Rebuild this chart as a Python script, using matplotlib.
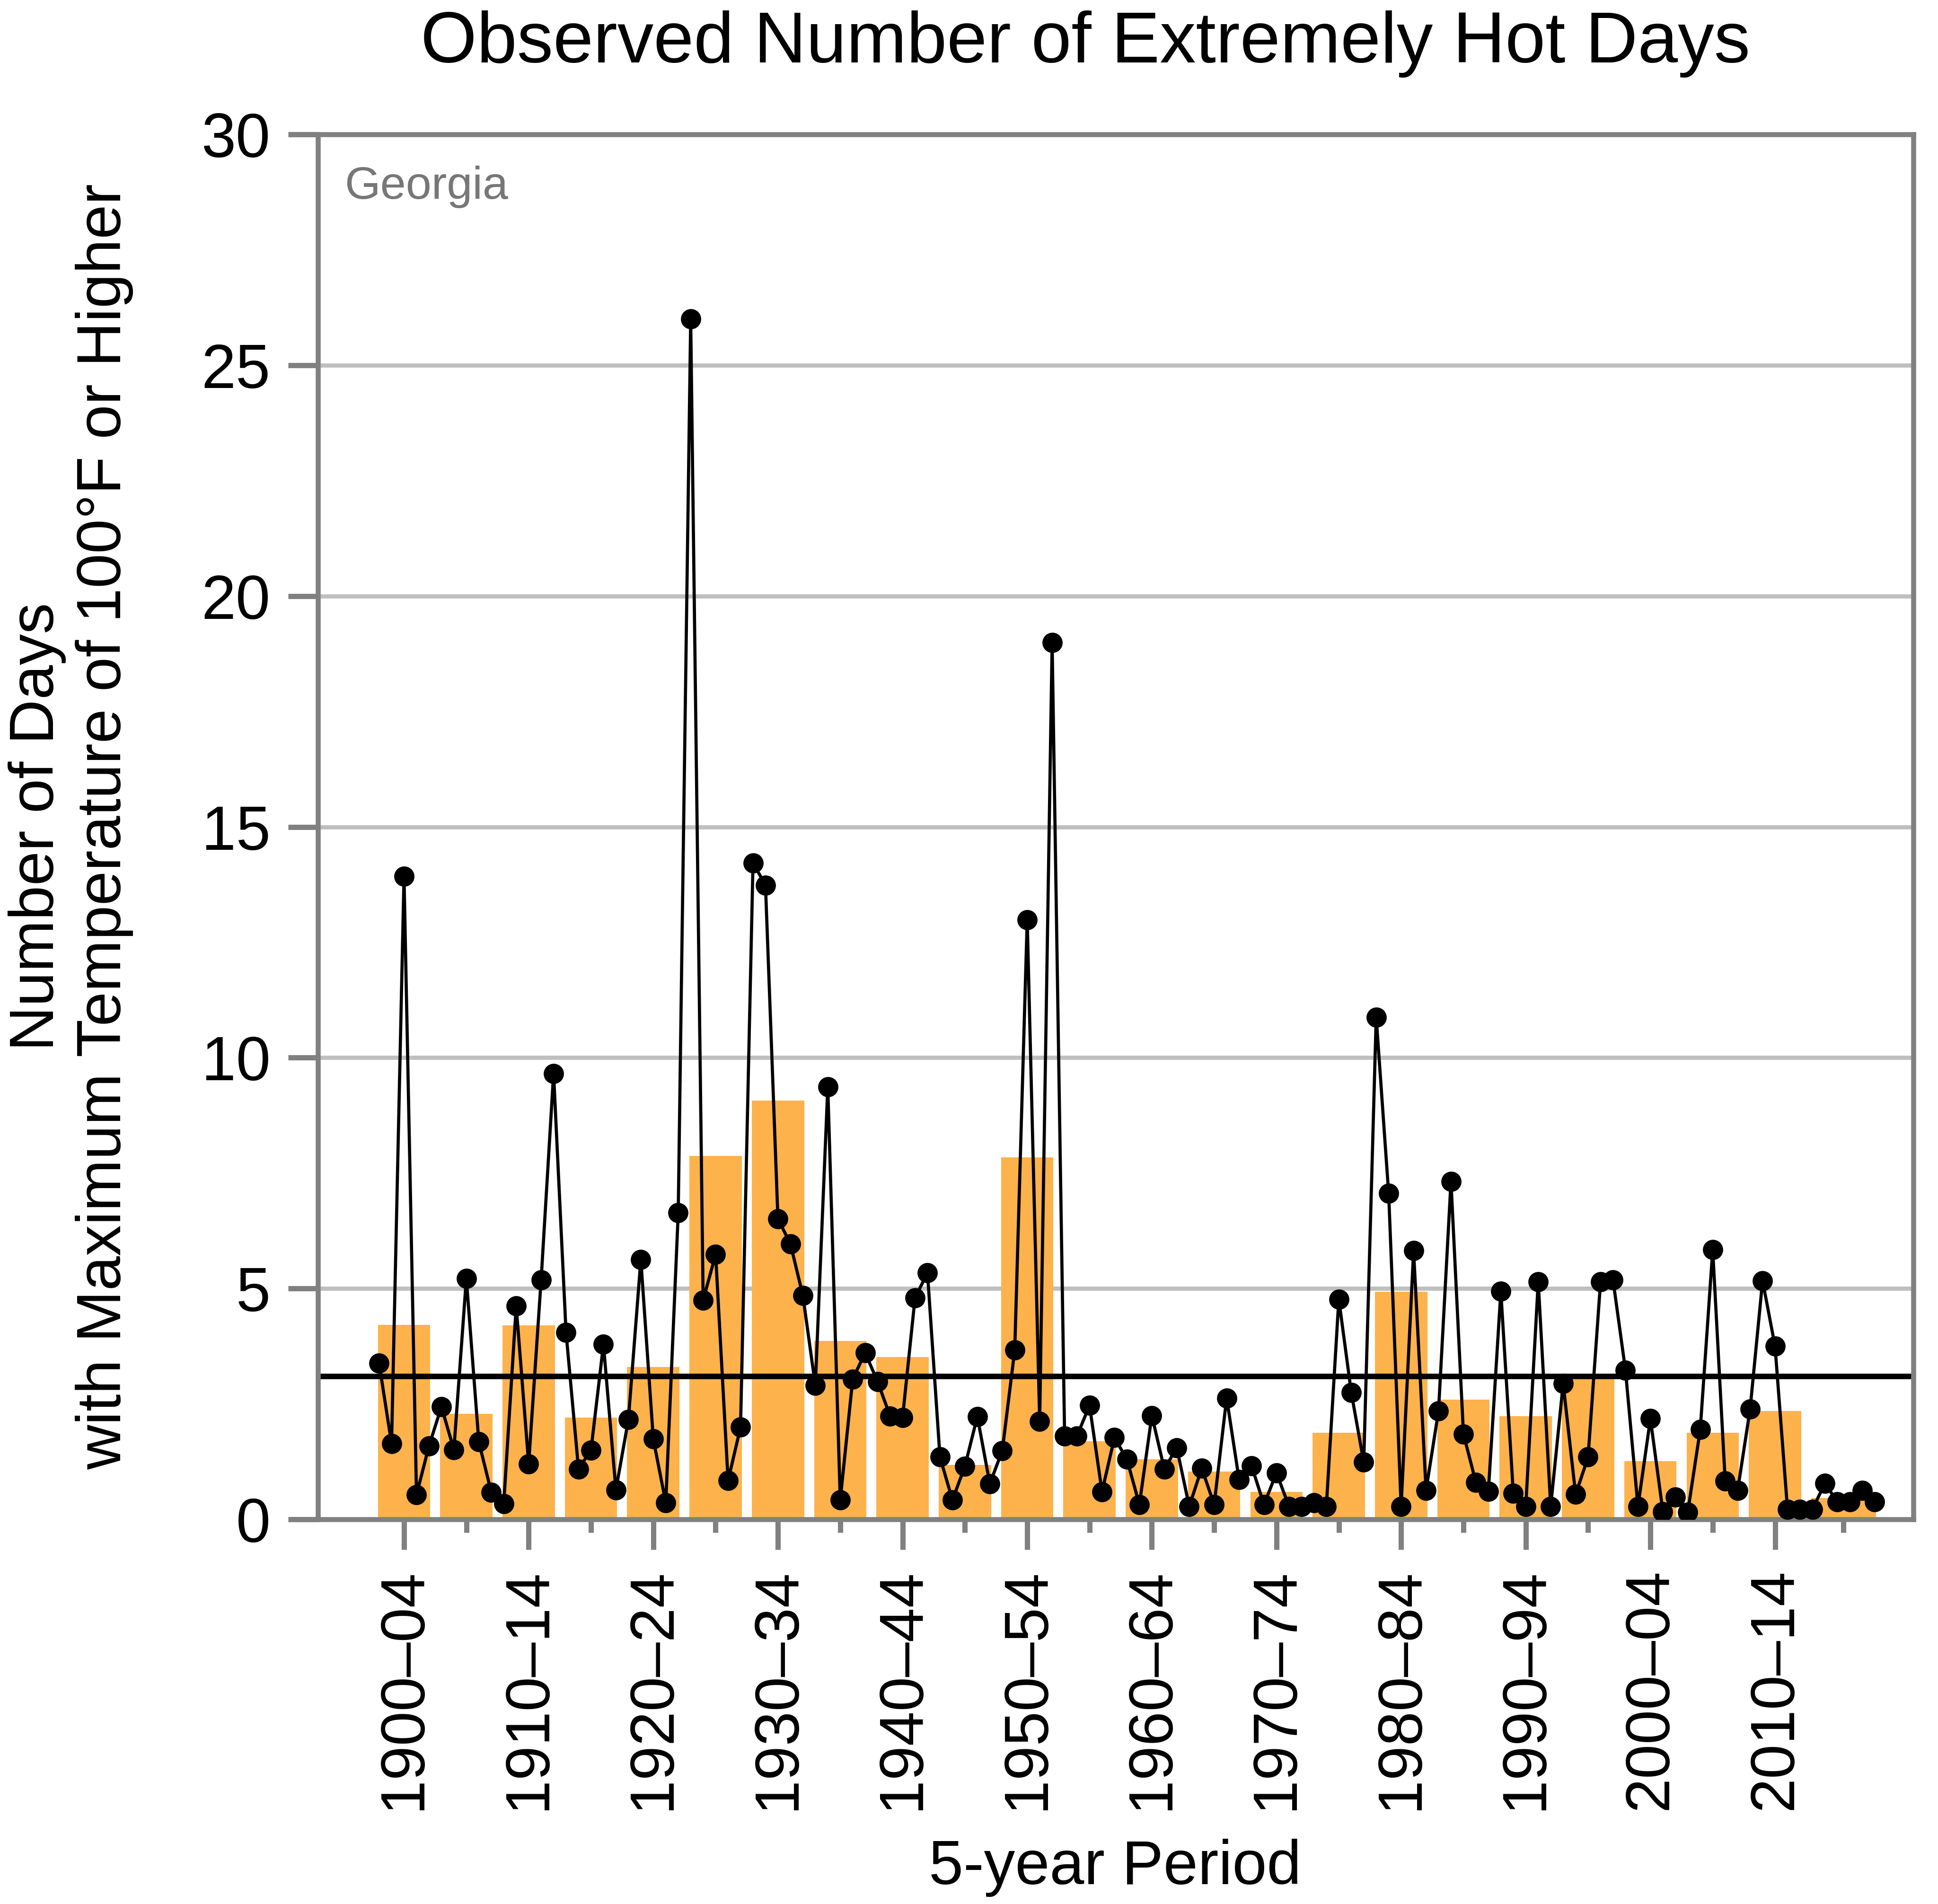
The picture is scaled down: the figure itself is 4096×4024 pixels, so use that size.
import matplotlib
matplotlib.use('Agg')
import matplotlib.pyplot as plt
from matplotlib.ticker import FixedLocator, NullFormatter

plt.rcParams['font.family'] = ['Liberation Sans', 'DejaVu Sans']

# annual number of days >= 100F, 1900-2020
years = list(range(1900, 2021))
days = [3.38, 1.64, 13.93, 0.53, 1.59, 2.44, 1.51, 5.22, 1.68, 0.59,
        0.34, 4.62, 1.20, 5.19, 9.66, 4.05, 1.09, 1.50, 3.79, 0.64,
        2.16, 5.63, 1.74, 0.36, 6.64, 26.0, 4.75, 5.74, 0.84, 2.00,
        14.22, 13.74, 6.51, 5.97, 4.85, 2.90, 9.37, 0.42, 3.04, 3.61,
        2.98, 2.24, 2.21, 4.80, 5.34, 1.35, 0.42, 1.15, 2.23, 0.77,
        1.49, 3.67, 12.99, 2.12, 18.99, 1.81, 1.81, 2.47, 0.60, 1.77,
        1.30, 0.32, 2.25, 1.09, 1.55, 0.28, 1.11, 0.32, 2.63, 0.86,
        1.16, 0.32, 1.01, 0.28, 0.28, 0.36, 0.28, 4.77, 2.75, 1.24,
        10.88, 7.06, 0.28, 5.82, 0.63, 2.35, 7.32, 1.85, 0.80, 0.61,
        4.94, 0.57, 0.28, 5.15, 0.28, 2.94, 0.54, 1.35, 5.15, 5.19,
        3.23, 0.28, 2.18, 0.17, 0.48, 0.16, 1.95, 5.84, 0.83, 0.63,
        2.39, 5.17, 3.75, 0.22, 0.22, 0.22, 0.78, 0.38, 0.38, 0.63,
        0.38]

# 5-year period averages
period_start = list(range(1900, 2020, 5))
period_end = [s + 4 for s in period_start[:-1]] + [2020]
period_avg = [4.21, 2.29, 4.20, 2.21, 3.30, 7.87, 9.07, 3.87, 3.52, 1.18,
              7.84, 1.69, 1.30, 1.04, 0.60, 1.88, 4.93, 2.59, 2.24, 3.04,
              1.26, 1.88, 2.35, 0.46]
long_term_avg = 3.10

centers = [(s + e) / 2 for s, e in zip(period_start, period_end)]
widths = [e - s + 0.2 for s, e in zip(period_start, period_end)]
major_labels = ['%d\u2013%02d' % (s, (s + 4) % 100) for s in period_start[::2]]

fig = plt.figure(figsize=(10.24, 10.06), dpi=400)
ax = fig.add_axes([0.1641, 0.2020, 0.8232, 0.7274])

grid_c = '#BFBFBF'
spine_c = '#808080'

for yv in [5, 10, 15, 20, 25]:
    ax.axhline(yv, color=grid_c, lw=1.6, zorder=0)

ax.bar(centers, period_avg, width=widths, color='#FEB24C', zorder=1)
ax.axhline(long_term_avg, color='black', lw=2.1, zorder=2)
ax.plot(years, days, color='black', lw=1.2, marker='o', markersize=6.7, zorder=3)

ax.set_xlim(1895.1, 2023.1)
ax.set_ylim(0, 30)

ax.set_yticks([0, 5, 10, 15, 20, 25, 30])
ax.xaxis.set_major_locator(FixedLocator(centers[::2]))
ax.xaxis.set_minor_locator(FixedLocator(centers[1::2]))
ax.set_xticklabels(major_labels, rotation=90)
ax.xaxis.set_minor_formatter(NullFormatter())

ax.tick_params(axis='both', which='major', labelsize=23.6, colors=spine_c,
               labelcolor='black', width=2.0)
ax.tick_params(axis='y', length=11.3, pad=6.8)
ax.tick_params(axis='x', which='major', length=11.5, pad=7.1)
ax.tick_params(axis='x', which='minor', length=5.0, width=2.0, colors=spine_c)

for sp in ax.spines.values():
    sp.set_color(spine_c)
    sp.set_linewidth(1.9)

ax.text(0.0166, 0.9535, 'Georgia', transform=ax.transAxes, fontsize=17.5,
        color='#777777', va='baseline', ha='left')

fig.text(0.560, 0.9672, 'Observed Number of Extremely Hot Days',
         fontsize=27.5, ha='center', va='baseline')
fig.text(0.5754, 0.01044, '5-year Period', fontsize=23.6,
         ha='center', va='baseline')
fig.text(0.0365, 0.5659,
         'Number of Days\nwith Maximum Temperature of 100\u00b0F or Higher',
         fontsize=23.6, rotation=90, ha='center', va='center',
         multialignment='center')

fig.savefig('out.png', dpi=400)
